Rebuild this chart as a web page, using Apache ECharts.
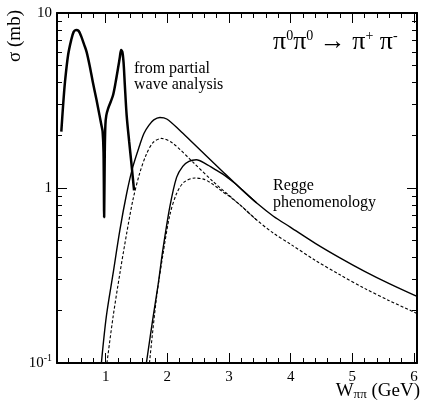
<!DOCTYPE html>
<html><head><meta charset="utf-8">
<script src="https://cdn.jsdelivr.net/npm/echarts@6/dist/echarts.min.js"></script>
<style>html,body{margin:0;padding:0;background:#fff}#c{width:421px;height:407px}</style>
</head><body><div id="c"></div>
<script>
// Partial wave analysis
const pwX = [0.28,0.31,0.34,0.39,0.44,0.48,0.52,0.56,0.60,0.65,0.69,0.74,0.79,0.85,0.90,0.93,0.95,0.965,0.975,0.985,0.995,1.01,1.04,1.08,1.12,1.16,1.20,1.23,1.25,1.27,1.29,1.31,1.34,1.38,1.42,1.46];
const pwY = [2.1,3.0,4.05,5.75,7.0,7.8,8.0,7.9,7.4,6.6,6.0,5.0,4.05,3.2,2.6,2.29,2.1,1.6,0.68,1.6,2.3,2.6,2.85,3.1,3.4,4.0,4.83,5.6,6.15,6.0,5.2,3.9,2.6,1.85,1.35,0.97];
// Regge, solid 1
const r1X = [0.93,1.01,1.12,1.23,1.34,1.44,1.55,1.62,1.70,1.78,1.88,1.99,2.2,2.42,2.63,2.9,3.18,3.45,3.72,4.0,4.4,4.8,5.2,5.6,6.05];
const r1Y = [0.1,0.184,0.325,0.575,0.93,1.32,1.75,2.05,2.28,2.45,2.53,2.48,2.14,1.8,1.53,1.24,1.0,0.82,0.69,0.596,0.483,0.399,0.334,0.284,0.24];
// Regge, dashed 1
const d1X = [1.02,1.12,1.23,1.34,1.44,1.55,1.66,1.77,1.90,2.09,2.42,2.74,3.18,3.45,3.72,4.0,4.4,4.8,5.2,5.6,6.05];
const d1Y = [0.1,0.184,0.325,0.55,0.85,1.21,1.56,1.82,1.92,1.8,1.40,1.09,0.80,0.656,0.552,0.477,0.386,0.319,0.267,0.227,0.192];
// Regge, solid 2
const r2X = [1.66,1.77,1.85,1.93,2.04,2.15,2.25,2.35,2.47,2.63,2.80,2.90,3.0,3.1,3.18,3.45];
const r2Y = [0.1,0.184,0.28,0.45,0.78,1.15,1.33,1.42,1.45,1.37,1.26,1.20,1.13,1.06,1.0,0.82];
// Regge, dashed 2
const d2X = [1.71,1.82,1.93,2.04,2.15,2.27,2.45,2.6,2.72,2.82,2.9,3.0,3.1,3.18,3.45];
const d2Y = [0.1,0.23,0.42,0.70,0.93,1.08,1.14,1.12,1.06,1.0,0.95,0.90,0.845,0.80,0.656];

const xMajor = [1,2,3,4,5,6];
const xMinor = [0.4,0.6,0.8,1.2,1.4,1.6,1.8,2.2,2.4,2.6,2.8,3.2,3.4,3.6,3.8,4.2,4.4,4.6,4.8,5.2,5.4,5.6,5.8];
const yMajor = [0.1,1,10];
const yMinor = [0.2,0.3,0.4,0.5,0.6,0.7,0.8,0.9,2,3,4,5,6,7,8,9];

const zip = (a,b) => a.map((v,i)=>[v,b[i]]);
const FONT = 'Liberation Serif';
const X0 = 0.21, X1 = 6.05;

function xAx(pos, major, showLine) {
  return {
    type:'value', position:pos, min:X0, max:X1,
    axisLine:{show:showLine, onZero:false, lineStyle:{color:'#000', width:2}},
    axisTick:{show:true, inside:true, length: major?10:5, customValues: major?xMajor:xMinor, lineStyle:{color:'#000', width:1}},
    axisLabel:{show: major && pos==='bottom', customValues:xMajor, margin:7, fontFamily:FONT, fontSize:15, color:'#000'},
    splitLine:{show:false}
  };
}
function yAx(pos, major, showLine) {
  return {
    type:'log', logBase:10, position:pos, min:0.1, max:10,
    axisLine:{show:showLine, onZero:false, lineStyle:{color:'#000', width:2}},
    axisTick:{show:true, inside:true, length: major?10:5, customValues: major?yMajor:yMinor, lineStyle:{color:'#000', width:1}},
    axisLabel:{show: major && pos==='left', customValues:yMajor, margin:5, fontFamily:FONT, fontSize:15, color:'#000',
      formatter: v => v > 5 ? '{a|10}' : (v > 0.5 ? '{a|1}' : '{a|10}{s|-1}'),
      rich:{a:{fontFamily:FONT, fontSize:15, color:'#000', lineHeight:20},
            s:{fontFamily:FONT, fontSize:10, color:'#000', lineHeight:10, verticalAlign:'top'}}},
    splitLine:{show:false}
  };
}

const line = (x, y, w, dashed) => ({type:'line', data:zip(x,y), showSymbol:false, smooth:0.3, clip:true,
  lineStyle:{color:'#000', width:w, type: dashed ? [3,2] : 'solid'}});

const chart = echarts.init(document.getElementById('c'), null, {renderer:'canvas'});
chart.setOption({
  animation:false,
  backgroundColor:'#fff',
  grid:{left:57, right:4, top:13, bottom:44, containLabel:false, outerBoundsMode:'none'},
  xAxis:[xAx('bottom',true,true), xAx('bottom',false,false), xAx('top',true,true), xAx('top',false,false)],
  yAxis:[yAx('left',true,true), yAx('left',false,false), yAx('right',true,true), yAx('right',false,false)],
  series:[
    line(pwX, pwY, 2.5, false),
    line(r1X, r1Y, 1.4, false),
    line(d1X, d1Y, 1.1, true),
    line(r2X, r2Y, 1.4, false),
    line(d2X, d2Y, 1.1, true)
  ],
  graphic:[
    {type:'text', x:273, y:29, style:{
      text:'{p|π}{s|0}{p|π}{s|0}{p| → π}{s|+}{p| π}{s|-}',
      rich:{p:{fontFamily:FONT, fontSize:26, fill:'#000', lineHeight:26},
            s:{fontFamily:FONT, fontSize:14, fill:'#000', lineHeight:14, verticalAlign:'top'}}}},
    {type:'text', x:134, y:61, style:{text:'from partial\nwave analysis', fontFamily:FONT, fontSize:16, lineHeight:16, fill:'#000'}},
    {type:'text', x:273, y:177, style:{text:'Regge\nphenomenology', fontFamily:FONT, fontSize:16, lineHeight:17, fill:'#000'}},
    {type:'text', x:15, y:36, rotation:Math.PI/2, style:{text:'σ (mb)', fontFamily:FONT, fontSize:19, fill:'#000', align:'center', verticalAlign:'middle'}},
    {type:'text', x:420, y:381, style:{
      text:'{w|W}{b|ππ}{w| (GeV)}', align:'right',
      rich:{w:{fontFamily:FONT, fontSize:19, fill:'#000', lineHeight:20},
            b:{fontFamily:FONT, fontSize:13, fill:'#000', lineHeight:13, verticalAlign:'bottom'}}}}
  ]
});
</script></body></html>
